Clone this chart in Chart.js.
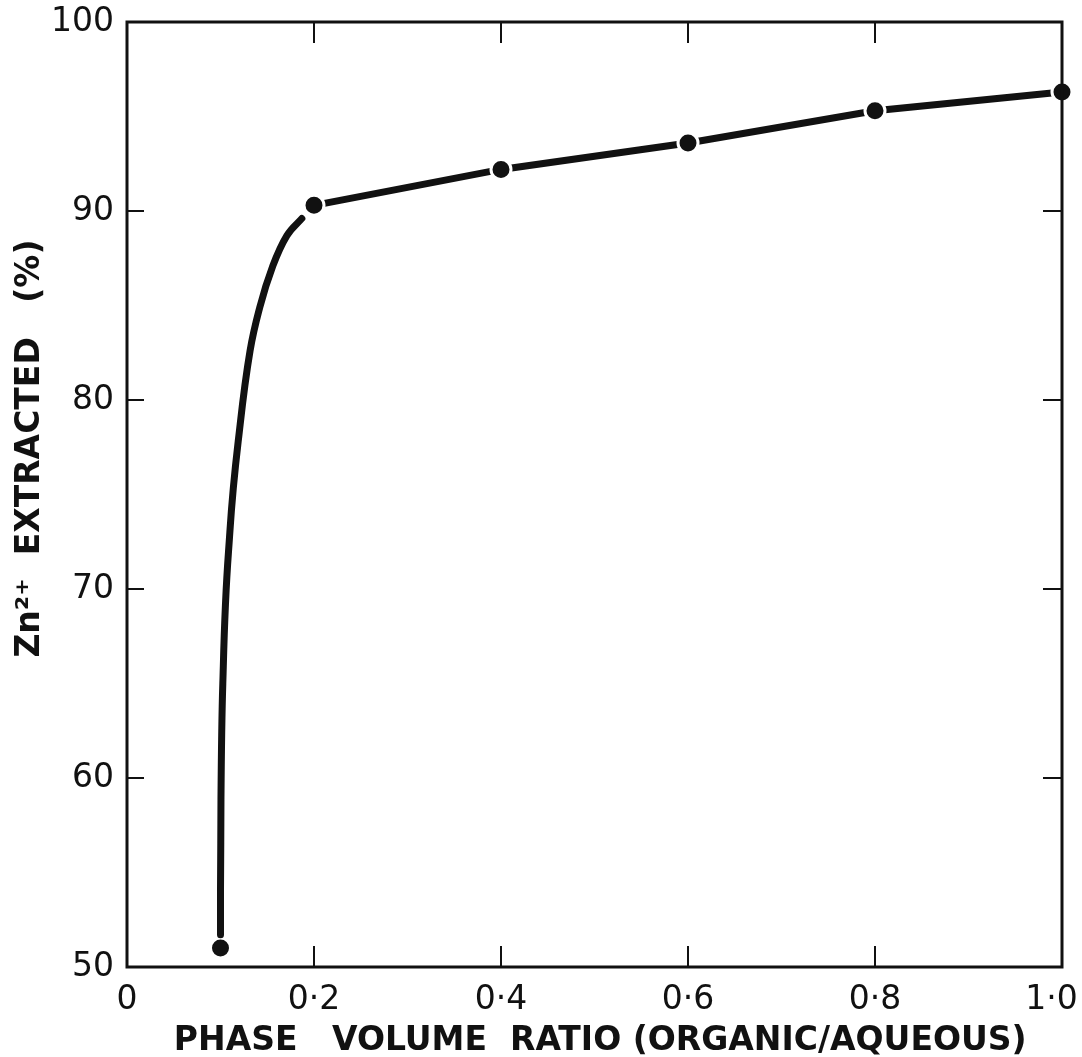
<!DOCTYPE html>
<html>
<head>
<meta charset="utf-8">
<script src="https://cdn.jsdelivr.net/npm/chart.js@4"></script>
<style>
  html, body { margin: 0; padding: 0; background: #fff; }
  #wrap { width: 1082px; height: 1057px; }
</style>
</head>
<body>
<div id="wrap"><canvas id="graph"></canvas></div>
<script>
// measured points (phase ratio, % Zn extracted)
const ratio = [0.1, 0.2, 0.4, 0.6, 0.8, 1.0];
const extracted = [51.0, 90.3, 92.2, 93.6, 95.3, 96.3];

// hand drawn curve between the first two points
const curveX = [0.1, 0.1, 0.1005, 0.103, 0.110, 0.121, 0.1316, 0.142, 0.156, 0.171, 0.187];
const curveY = [51.7, 54.0, 58.85, 65.9, 73.0, 78.7, 82.6, 84.9, 87.1, 88.7, 89.6];

const xTicks = [0, 0.2, 0.4, 0.6, 0.8, 1.0];
const xTickLabels = ["0", "0·2", "0·4", "0·6", "0·8", "1·0  "];
const yTicks = [50, 60, 70, 80, 90, 100];

const xTitle = " PHASE   VOLUME  RATIO (ORGANIC/AQUEOUS)";
const yTitle = "        Zn²⁺  EXTRACTED   (%)";

const ink = "#111";

// frame + inward ticks on all four sides
const frameTicks = {
    id: "frameTicks",
    afterDatasetsDraw(chart) {
        const ctx = chart.ctx;
        const a = chart.chartArea;
        const xs = chart.scales.x;
        const ys = chart.scales.y;
        ctx.save();
        ctx.strokeStyle = ink;
        ctx.lineWidth = 2;
        xs.ticks.forEach(t => {
            if (t.value <= 0 || t.value >= 1) return;
            const px = xs.getPixelForValue(t.value);
            ctx.beginPath();
            ctx.moveTo(px, a.bottom); ctx.lineTo(px, a.bottom - 21);
            ctx.moveTo(px, a.top); ctx.lineTo(px, a.top + 21);
            ctx.stroke();
        });
        ys.ticks.forEach(t => {
            if (t.value <= 50 || t.value >= 100) return;
            const py = ys.getPixelForValue(t.value);
            ctx.beginPath();
            ctx.moveTo(a.left, py); ctx.lineTo(a.left + 17, py);
            ctx.moveTo(a.right, py); ctx.lineTo(a.right - 19, py);
            ctx.stroke();
        });
        ctx.lineWidth = 3;
        ctx.strokeRect(a.left, a.top, a.right - a.left, a.bottom - a.top);
        ctx.restore();
    }
};

new Chart(document.getElementById("graph"), {
    type: "scatter",
    data: {
        datasets: [
            {
                label: "curve",
                data: curveX.map((x, i) => ({x: x, y: curveY[i]})),
                showLine: true,
                borderColor: ink,
                borderWidth: 7,
                borderCapStyle: "round",
                cubicInterpolationMode: "monotone",
                pointRadius: 0
            },
            {
                label: "Zn extracted",
                data: ratio.map((x, i) => ({x: x, y: extracted[i]})),
                showLine: true,
                clip: false,
                borderColor: ink,
                borderWidth: 7,
                borderCapStyle: "round",
                segment: {
                    borderColor: c => c.p0DataIndex === 0 ? "rgba(0,0,0,0)" : ink
                },
                pointRadius: 10,
                pointBackgroundColor: ink,
                pointBorderColor: "#fff",
                pointBorderWidth: 3
            }
        ]
    },
    options: {
        responsive: true,
        maintainAspectRatio: false,
        animation: false,
        layout: { padding: { top: 22, right: 20, left: 0, bottom: 0 } },
        plugins: { legend: { display: false }, tooltip: { enabled: false } },
        scales: {
            x: {
                type: "linear",
                min: 0, max: 1,
                afterBuildTicks: s => { s.ticks = xTicks.map(v => ({value: v})); },
                afterFit: s => { s.height = 90; s.paddingLeft = 0; s.paddingRight = 0; },
                grid: { display: false, drawTicks: false },
                border: { display: false },
                ticks: {
                    padding: 14,
                    color: ink,
                    font: { family: "DejaVu Sans", size: 33 },
                    maxRotation: 0,
                    callback: (v, i) => xTickLabels[i]
                },
                title: {
                    display: true,
                    text: xTitle,
                    color: ink,
                    font: { family: "DejaVu Sans", size: 33, weight: "bold" },
                    padding: { top: 0, bottom: -4 }
                }
            },
            y: {
                min: 50, max: 100,
                afterBuildTicks: s => { s.ticks = yTicks.map(v => ({value: v})); },
                afterFit: s => { s.width = 127; s.paddingTop = 0; s.paddingBottom = 0; },
                grid: { display: false, drawTicks: false },
                border: { display: false },
                ticks: {
                    padding: 13,
                    color: ink,
                    font: { family: "DejaVu Sans", size: 33 }
                },
                title: {
                    display: true,
                    text: yTitle,
                    color: ink,
                    font: { family: "DejaVu Sans", size: 33, weight: "bold" },
                    padding: { top: 11, bottom: 0 }
                }
            }
        }
    },
    plugins: [frameTicks]
});
</script>
</body>
</html>
